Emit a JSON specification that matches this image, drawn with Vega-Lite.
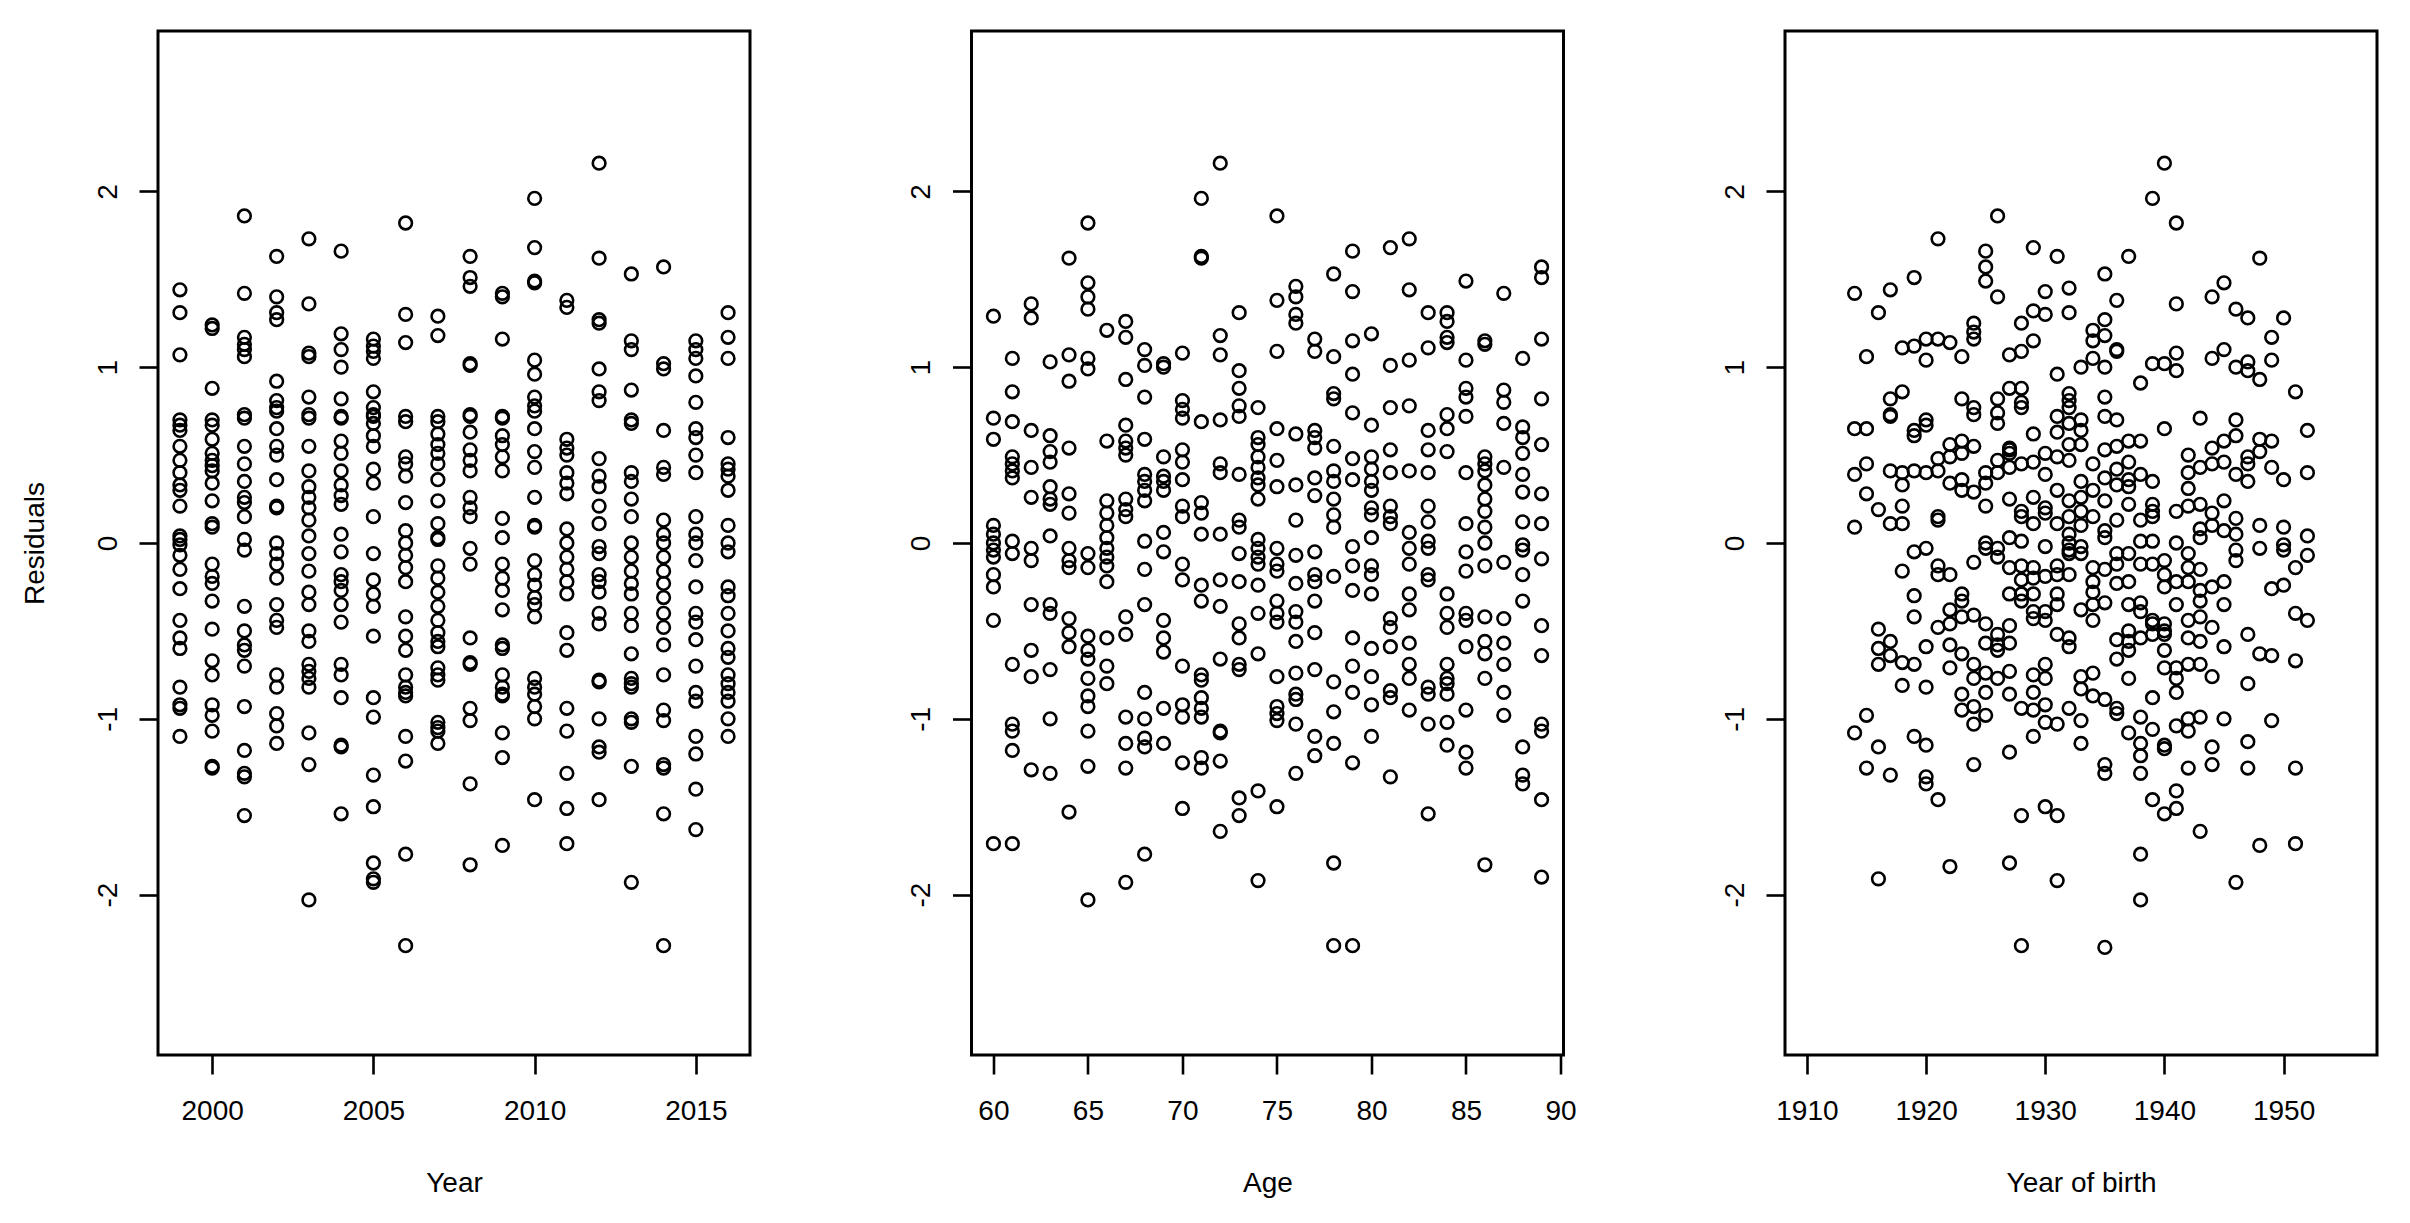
{
"$schema": "https://vega.github.io/schema/vega-lite/v6.json",
"background": "white",
"padding": {"left": 19, "top": 29, "right": 10, "bottom": 10},
"spacing": 221.5,
"bounds": "flush",
"datasets": {
"p1": [
{"x":1999,"y":1.44},{"x":1999,"y":1.31},{"x":1999,"y":1.07},{"x":1999,"y":0.70},{"x":1999,"y":0.67},{"x":1999,"y":0.64},{"x":1999,"y":0.55},{"x":1999,"y":0.47},{"x":1999,"y":0.40},{"x":1999,"y":0.33},{"x":1999,"y":0.30},{"x":1999,"y":0.21},{"x":1999,"y":0.04},{"x":1999,"y":0.02},{"x":1999,"y":-0.01},{"x":1999,"y":-0.07},{"x":1999,"y":-0.15},{"x":1999,"y":-0.26},{"x":1999,"y":-0.44},{"x":1999,"y":-0.54},{"x":1999,"y":-0.60},{"x":1999,"y":-0.82},{"x":1999,"y":-0.92},{"x":1999,"y":-0.94},{"x":1999,"y":-1.10},
{"x":2000,"y":1.24},{"x":2000,"y":1.22},{"x":2000,"y":0.88},{"x":2000,"y":0.70},{"x":2000,"y":0.67},{"x":2000,"y":0.59},{"x":2000,"y":0.51},{"x":2000,"y":0.47},{"x":2000,"y":0.44},{"x":2000,"y":0.41},{"x":2000,"y":0.34},{"x":2000,"y":0.24},{"x":2000,"y":0.11},{"x":2000,"y":0.09},{"x":2000,"y":-0.12},{"x":2000,"y":-0.19},{"x":2000,"y":-0.23},{"x":2000,"y":-0.33},{"x":2000,"y":-0.49},{"x":2000,"y":-0.67},{"x":2000,"y":-0.75},{"x":2000,"y":-0.92},{"x":2000,"y":-0.98},{"x":2000,"y":-1.07},{"x":2000,"y":-1.27},{"x":2000,"y":-1.28},
{"x":2001,"y":1.86},{"x":2001,"y":1.42},{"x":2001,"y":1.17},{"x":2001,"y":1.13},{"x":2001,"y":1.10},{"x":2001,"y":1.06},{"x":2001,"y":0.73},{"x":2001,"y":0.71},{"x":2001,"y":0.55},{"x":2001,"y":0.45},{"x":2001,"y":0.35},{"x":2001,"y":0.26},{"x":2001,"y":0.23},{"x":2001,"y":0.15},{"x":2001,"y":0.02},{"x":2001,"y":-0.04},{"x":2001,"y":-0.36},{"x":2001,"y":-0.50},{"x":2001,"y":-0.58},{"x":2001,"y":-0.61},{"x":2001,"y":-0.70},{"x":2001,"y":-0.93},{"x":2001,"y":-1.18},{"x":2001,"y":-1.31},{"x":2001,"y":-1.33},{"x":2001,"y":-1.55},
{"x":2002,"y":1.63},{"x":2002,"y":1.40},{"x":2002,"y":1.31},{"x":2002,"y":1.27},{"x":2002,"y":0.92},{"x":2002,"y":0.81},{"x":2002,"y":0.77},{"x":2002,"y":0.75},{"x":2002,"y":0.65},{"x":2002,"y":0.55},{"x":2002,"y":0.50},{"x":2002,"y":0.36},{"x":2002,"y":0.21},{"x":2002,"y":0.20},{"x":2002,"y":0.00},{"x":2002,"y":-0.06},{"x":2002,"y":-0.12},{"x":2002,"y":-0.20},{"x":2002,"y":-0.35},{"x":2002,"y":-0.44},{"x":2002,"y":-0.48},{"x":2002,"y":-0.75},{"x":2002,"y":-0.82},{"x":2002,"y":-0.97},{"x":2002,"y":-1.04},{"x":2002,"y":-1.14},
{"x":2003,"y":1.73},{"x":2003,"y":1.36},{"x":2003,"y":1.08},{"x":2003,"y":1.06},{"x":2003,"y":0.83},{"x":2003,"y":0.73},{"x":2003,"y":0.71},{"x":2003,"y":0.55},{"x":2003,"y":0.41},{"x":2003,"y":0.32},{"x":2003,"y":0.26},{"x":2003,"y":0.20},{"x":2003,"y":0.13},{"x":2003,"y":0.04},{"x":2003,"y":-0.06},{"x":2003,"y":-0.16},{"x":2003,"y":-0.28},{"x":2003,"y":-0.35},{"x":2003,"y":-0.50},{"x":2003,"y":-0.56},{"x":2003,"y":-0.69},{"x":2003,"y":-0.73},{"x":2003,"y":-0.77},{"x":2003,"y":-0.82},{"x":2003,"y":-1.08},{"x":2003,"y":-1.26},{"x":2003,"y":-2.03},
{"x":2004,"y":1.66},{"x":2004,"y":1.19},{"x":2004,"y":1.10},{"x":2004,"y":1.00},{"x":2004,"y":0.82},{"x":2004,"y":0.72},{"x":2004,"y":0.71},{"x":2004,"y":0.58},{"x":2004,"y":0.51},{"x":2004,"y":0.41},{"x":2004,"y":0.33},{"x":2004,"y":0.27},{"x":2004,"y":0.22},{"x":2004,"y":0.05},{"x":2004,"y":-0.05},{"x":2004,"y":-0.18},{"x":2004,"y":-0.22},{"x":2004,"y":-0.27},{"x":2004,"y":-0.35},{"x":2004,"y":-0.45},{"x":2004,"y":-0.69},{"x":2004,"y":-0.75},{"x":2004,"y":-0.88},{"x":2004,"y":-1.15},{"x":2004,"y":-1.16},{"x":2004,"y":-1.54},
{"x":2005,"y":1.16},{"x":2005,"y":1.12},{"x":2005,"y":1.09},{"x":2005,"y":1.05},{"x":2005,"y":0.86},{"x":2005,"y":0.77},{"x":2005,"y":0.73},{"x":2005,"y":0.72},{"x":2005,"y":0.68},{"x":2005,"y":0.61},{"x":2005,"y":0.55},{"x":2005,"y":0.42},{"x":2005,"y":0.34},{"x":2005,"y":0.15},{"x":2005,"y":-0.06},{"x":2005,"y":-0.21},{"x":2005,"y":-0.29},{"x":2005,"y":-0.36},{"x":2005,"y":-0.53},{"x":2005,"y":-0.88},{"x":2005,"y":-0.99},{"x":2005,"y":-1.32},{"x":2005,"y":-1.50},{"x":2005,"y":-1.82},{"x":2005,"y":-1.91},{"x":2005,"y":-1.93},
{"x":2006,"y":1.82},{"x":2006,"y":1.30},{"x":2006,"y":1.14},{"x":2006,"y":0.72},{"x":2006,"y":0.69},{"x":2006,"y":0.49},{"x":2006,"y":0.45},{"x":2006,"y":0.38},{"x":2006,"y":0.23},{"x":2006,"y":0.07},{"x":2006,"y":0.00},{"x":2006,"y":-0.07},{"x":2006,"y":-0.14},{"x":2006,"y":-0.22},{"x":2006,"y":-0.42},{"x":2006,"y":-0.53},{"x":2006,"y":-0.61},{"x":2006,"y":-0.75},{"x":2006,"y":-0.82},{"x":2006,"y":-0.85},{"x":2006,"y":-0.87},{"x":2006,"y":-1.10},{"x":2006,"y":-1.24},{"x":2006,"y":-1.77},{"x":2006,"y":-2.29},
{"x":2007,"y":1.29},{"x":2007,"y":1.18},{"x":2007,"y":0.72},{"x":2007,"y":0.69},{"x":2007,"y":0.62},{"x":2007,"y":0.56},{"x":2007,"y":0.51},{"x":2007,"y":0.45},{"x":2007,"y":0.36},{"x":2007,"y":0.24},{"x":2007,"y":0.11},{"x":2007,"y":0.03},{"x":2007,"y":0.02},{"x":2007,"y":-0.13},{"x":2007,"y":-0.20},{"x":2007,"y":-0.28},{"x":2007,"y":-0.36},{"x":2007,"y":-0.44},{"x":2007,"y":-0.51},{"x":2007,"y":-0.56},{"x":2007,"y":-0.59},{"x":2007,"y":-0.71},{"x":2007,"y":-0.75},{"x":2007,"y":-0.78},{"x":2007,"y":-1.02},{"x":2007,"y":-1.05},{"x":2007,"y":-1.07},{"x":2007,"y":-1.14},
{"x":2008,"y":1.63},{"x":2008,"y":1.51},{"x":2008,"y":1.46},{"x":2008,"y":1.02},{"x":2008,"y":1.01},{"x":2008,"y":0.73},{"x":2008,"y":0.72},{"x":2008,"y":0.63},{"x":2008,"y":0.53},{"x":2008,"y":0.47},{"x":2008,"y":0.41},{"x":2008,"y":0.26},{"x":2008,"y":0.20},{"x":2008,"y":0.15},{"x":2008,"y":-0.03},{"x":2008,"y":-0.12},{"x":2008,"y":-0.54},{"x":2008,"y":-0.68},{"x":2008,"y":-0.69},{"x":2008,"y":-0.94},{"x":2008,"y":-1.01},{"x":2008,"y":-1.37},{"x":2008,"y":-1.83},
{"x":2009,"y":1.42},{"x":2009,"y":1.40},{"x":2009,"y":1.16},{"x":2009,"y":0.72},{"x":2009,"y":0.71},{"x":2009,"y":0.61},{"x":2009,"y":0.56},{"x":2009,"y":0.49},{"x":2009,"y":0.41},{"x":2009,"y":0.14},{"x":2009,"y":0.03},{"x":2009,"y":-0.12},{"x":2009,"y":-0.20},{"x":2009,"y":-0.27},{"x":2009,"y":-0.38},{"x":2009,"y":-0.58},{"x":2009,"y":-0.60},{"x":2009,"y":-0.75},{"x":2009,"y":-0.82},{"x":2009,"y":-0.86},{"x":2009,"y":-0.87},{"x":2009,"y":-1.08},{"x":2009,"y":-1.22},{"x":2009,"y":-1.72},
{"x":2010,"y":1.96},{"x":2010,"y":1.68},{"x":2010,"y":1.49},{"x":2010,"y":1.48},{"x":2010,"y":1.04},{"x":2010,"y":0.96},{"x":2010,"y":0.83},{"x":2010,"y":0.78},{"x":2010,"y":0.75},{"x":2010,"y":0.65},{"x":2010,"y":0.52},{"x":2010,"y":0.43},{"x":2010,"y":0.26},{"x":2010,"y":0.10},{"x":2010,"y":0.09},{"x":2010,"y":-0.10},{"x":2010,"y":-0.18},{"x":2010,"y":-0.24},{"x":2010,"y":-0.31},{"x":2010,"y":-0.35},{"x":2010,"y":-0.42},{"x":2010,"y":-0.77},{"x":2010,"y":-0.82},{"x":2010,"y":-0.86},{"x":2010,"y":-0.93},{"x":2010,"y":-1.00},{"x":2010,"y":-1.46},
{"x":2011,"y":1.38},{"x":2011,"y":1.34},{"x":2011,"y":0.59},{"x":2011,"y":0.54},{"x":2011,"y":0.50},{"x":2011,"y":0.40},{"x":2011,"y":0.34},{"x":2011,"y":0.28},{"x":2011,"y":0.08},{"x":2011,"y":0.00},{"x":2011,"y":-0.08},{"x":2011,"y":-0.15},{"x":2011,"y":-0.22},{"x":2011,"y":-0.29},{"x":2011,"y":-0.51},{"x":2011,"y":-0.61},{"x":2011,"y":-0.94},{"x":2011,"y":-1.07},{"x":2011,"y":-1.31},{"x":2011,"y":-1.51},{"x":2011,"y":-1.71},
{"x":2012,"y":2.16},{"x":2012,"y":1.62},{"x":2012,"y":1.27},{"x":2012,"y":1.25},{"x":2012,"y":0.99},{"x":2012,"y":0.86},{"x":2012,"y":0.81},{"x":2012,"y":0.48},{"x":2012,"y":0.38},{"x":2012,"y":0.32},{"x":2012,"y":0.21},{"x":2012,"y":0.11},{"x":2012,"y":-0.02},{"x":2012,"y":-0.06},{"x":2012,"y":-0.18},{"x":2012,"y":-0.22},{"x":2012,"y":-0.28},{"x":2012,"y":-0.40},{"x":2012,"y":-0.46},{"x":2012,"y":-0.78},{"x":2012,"y":-0.79},{"x":2012,"y":-1.00},{"x":2012,"y":-1.16},{"x":2012,"y":-1.19},{"x":2012,"y":-1.46},
{"x":2013,"y":1.53},{"x":2013,"y":1.15},{"x":2013,"y":1.10},{"x":2013,"y":0.87},{"x":2013,"y":0.70},{"x":2013,"y":0.68},{"x":2013,"y":0.40},{"x":2013,"y":0.35},{"x":2013,"y":0.25},{"x":2013,"y":0.15},{"x":2013,"y":0.00},{"x":2013,"y":-0.08},{"x":2013,"y":-0.16},{"x":2013,"y":-0.23},{"x":2013,"y":-0.29},{"x":2013,"y":-0.40},{"x":2013,"y":-0.47},{"x":2013,"y":-0.63},{"x":2013,"y":-0.77},{"x":2013,"y":-0.80},{"x":2013,"y":-0.82},{"x":2013,"y":-1.00},{"x":2013,"y":-1.02},{"x":2013,"y":-1.27},{"x":2013,"y":-1.93},
{"x":2014,"y":1.57},{"x":2014,"y":1.02},{"x":2014,"y":0.99},{"x":2014,"y":0.64},{"x":2014,"y":0.43},{"x":2014,"y":0.39},{"x":2014,"y":0.13},{"x":2014,"y":0.05},{"x":2014,"y":0.00},{"x":2014,"y":-0.08},{"x":2014,"y":-0.16},{"x":2014,"y":-0.23},{"x":2014,"y":-0.31},{"x":2014,"y":-0.40},{"x":2014,"y":-0.48},{"x":2014,"y":-0.58},{"x":2014,"y":-0.75},{"x":2014,"y":-0.95},{"x":2014,"y":-1.01},{"x":2014,"y":-1.26},{"x":2014,"y":-1.28},{"x":2014,"y":-1.54},{"x":2014,"y":-2.29},
{"x":2015,"y":1.15},{"x":2015,"y":1.10},{"x":2015,"y":1.05},{"x":2015,"y":0.95},{"x":2015,"y":0.80},{"x":2015,"y":0.65},{"x":2015,"y":0.60},{"x":2015,"y":0.50},{"x":2015,"y":0.40},{"x":2015,"y":0.15},{"x":2015,"y":0.05},{"x":2015,"y":0.00},{"x":2015,"y":-0.10},{"x":2015,"y":-0.25},{"x":2015,"y":-0.40},{"x":2015,"y":-0.45},{"x":2015,"y":-0.55},{"x":2015,"y":-0.70},{"x":2015,"y":-0.85},{"x":2015,"y":-0.90},{"x":2015,"y":-1.10},{"x":2015,"y":-1.20},{"x":2015,"y":-1.40},{"x":2015,"y":-1.63},
{"x":2016,"y":1.31},{"x":2016,"y":1.17},{"x":2016,"y":1.05},{"x":2016,"y":0.60},{"x":2016,"y":0.45},{"x":2016,"y":0.42},{"x":2016,"y":0.38},{"x":2016,"y":0.30},{"x":2016,"y":0.10},{"x":2016,"y":0.00},{"x":2016,"y":-0.05},{"x":2016,"y":-0.25},{"x":2016,"y":-0.30},{"x":2016,"y":-0.40},{"x":2016,"y":-0.50},{"x":2016,"y":-0.60},{"x":2016,"y":-0.65},{"x":2016,"y":-0.75},{"x":2016,"y":-0.80},{"x":2016,"y":-0.85},{"x":2016,"y":-0.90},{"x":2016,"y":-1.00},{"x":2016,"y":-1.10}
],
"p2": [
{"x":60,"y":1.29},{"x":60,"y":0.71},{"x":60,"y":0.59},{"x":60,"y":0.10},{"x":60,"y":0.05},{"x":60,"y":0.00},{"x":60,"y":-0.04},{"x":60,"y":-0.08},{"x":60,"y":-0.18},{"x":60,"y":-0.25},{"x":60,"y":-0.44},{"x":60,"y":-1.71},
{"x":61,"y":1.05},{"x":61,"y":0.86},{"x":61,"y":0.69},{"x":61,"y":0.49},{"x":61,"y":0.45},{"x":61,"y":0.41},{"x":61,"y":0.37},{"x":61,"y":0.01},{"x":61,"y":-0.06},{"x":61,"y":-0.69},{"x":61,"y":-1.03},{"x":61,"y":-1.07},{"x":61,"y":-1.18},{"x":61,"y":-1.71},
{"x":62,"y":1.36},{"x":62,"y":1.28},{"x":62,"y":0.64},{"x":62,"y":0.43},{"x":62,"y":0.26},{"x":62,"y":-0.03},{"x":62,"y":-0.10},{"x":62,"y":-0.35},{"x":62,"y":-0.61},{"x":62,"y":-0.76},{"x":62,"y":-1.29},
{"x":63,"y":1.03},{"x":63,"y":0.61},{"x":63,"y":0.52},{"x":63,"y":0.46},{"x":63,"y":0.32},{"x":63,"y":0.25},{"x":63,"y":0.22},{"x":63,"y":0.04},{"x":63,"y":-0.35},{"x":63,"y":-0.40},{"x":63,"y":-0.72},{"x":63,"y":-1.00},{"x":63,"y":-1.31},
{"x":64,"y":1.62},{"x":64,"y":1.07},{"x":64,"y":0.92},{"x":64,"y":0.54},{"x":64,"y":0.28},{"x":64,"y":0.17},{"x":64,"y":-0.03},{"x":64,"y":-0.10},{"x":64,"y":-0.14},{"x":64,"y":-0.43},{"x":64,"y":-0.51},{"x":64,"y":-0.59},{"x":64,"y":-1.53},
{"x":65,"y":1.82},{"x":65,"y":1.48},{"x":65,"y":1.40},{"x":65,"y":1.33},{"x":65,"y":1.05},{"x":65,"y":0.99},{"x":65,"y":-0.06},{"x":65,"y":-0.14},{"x":65,"y":-0.53},{"x":65,"y":-0.61},{"x":65,"y":-0.66},{"x":65,"y":-0.77},{"x":65,"y":-0.87},{"x":65,"y":-0.93},{"x":65,"y":-1.07},{"x":65,"y":-1.27},{"x":65,"y":-2.03},
{"x":66,"y":1.21},{"x":66,"y":0.58},{"x":66,"y":0.24},{"x":66,"y":0.17},{"x":66,"y":0.10},{"x":66,"y":0.03},{"x":66,"y":-0.03},{"x":66,"y":-0.08},{"x":66,"y":-0.13},{"x":66,"y":-0.22},{"x":66,"y":-0.54},{"x":66,"y":-0.70},{"x":66,"y":-0.80},
{"x":67,"y":1.26},{"x":67,"y":1.17},{"x":67,"y":0.93},{"x":67,"y":0.67},{"x":67,"y":0.58},{"x":67,"y":0.54},{"x":67,"y":0.50},{"x":67,"y":0.25},{"x":67,"y":0.19},{"x":67,"y":0.15},{"x":67,"y":-0.42},{"x":67,"y":-0.52},{"x":67,"y":-0.99},{"x":67,"y":-1.14},{"x":67,"y":-1.28},{"x":67,"y":-1.93},
{"x":68,"y":1.10},{"x":68,"y":1.01},{"x":68,"y":0.83},{"x":68,"y":0.59},{"x":68,"y":0.39},{"x":68,"y":0.35},{"x":68,"y":0.30},{"x":68,"y":0.24},{"x":68,"y":0.01},{"x":68,"y":-0.15},{"x":68,"y":-0.35},{"x":68,"y":-0.85},{"x":68,"y":-1.00},{"x":68,"y":-1.11},{"x":68,"y":-1.16},{"x":68,"y":-1.77},
{"x":69,"y":1.02},{"x":69,"y":1.00},{"x":69,"y":0.49},{"x":69,"y":0.38},{"x":69,"y":0.35},{"x":69,"y":0.30},{"x":69,"y":0.06},{"x":69,"y":-0.05},{"x":69,"y":-0.44},{"x":69,"y":-0.54},{"x":69,"y":-0.62},{"x":69,"y":-0.94},{"x":69,"y":-1.14},
{"x":70,"y":1.08},{"x":70,"y":0.81},{"x":70,"y":0.76},{"x":70,"y":0.71},{"x":70,"y":0.53},{"x":70,"y":0.46},{"x":70,"y":0.36},{"x":70,"y":0.21},{"x":70,"y":0.15},{"x":70,"y":-0.12},{"x":70,"y":-0.21},{"x":70,"y":-0.70},{"x":70,"y":-0.92},{"x":70,"y":-0.99},{"x":70,"y":-1.25},{"x":70,"y":-1.51},
{"x":71,"y":1.96},{"x":71,"y":1.63},{"x":71,"y":1.62},{"x":71,"y":0.69},{"x":71,"y":0.23},{"x":71,"y":0.17},{"x":71,"y":0.05},{"x":71,"y":-0.24},{"x":71,"y":-0.33},{"x":71,"y":-0.75},{"x":71,"y":-0.78},{"x":71,"y":-0.88},{"x":71,"y":-0.94},{"x":71,"y":-0.99},{"x":71,"y":-1.22},{"x":71,"y":-1.28},
{"x":72,"y":2.16},{"x":72,"y":1.18},{"x":72,"y":1.07},{"x":72,"y":0.70},{"x":72,"y":0.45},{"x":72,"y":0.40},{"x":72,"y":0.05},{"x":72,"y":-0.21},{"x":72,"y":-0.36},{"x":72,"y":-0.66},{"x":72,"y":-1.07},{"x":72,"y":-1.08},{"x":72,"y":-1.24},{"x":72,"y":-1.64},
{"x":73,"y":1.31},{"x":73,"y":0.98},{"x":73,"y":0.88},{"x":73,"y":0.78},{"x":73,"y":0.72},{"x":73,"y":0.39},{"x":73,"y":0.13},{"x":73,"y":0.09},{"x":73,"y":-0.06},{"x":73,"y":-0.22},{"x":73,"y":-0.46},{"x":73,"y":-0.54},{"x":73,"y":-0.69},{"x":73,"y":-0.72},{"x":73,"y":-1.45},{"x":73,"y":-1.55},
{"x":74,"y":0.77},{"x":74,"y":0.60},{"x":74,"y":0.56},{"x":74,"y":0.49},{"x":74,"y":0.43},{"x":74,"y":0.37},{"x":74,"y":0.33},{"x":74,"y":0.25},{"x":74,"y":0.02},{"x":74,"y":-0.03},{"x":74,"y":-0.08},{"x":74,"y":-0.12},{"x":74,"y":-0.24},{"x":74,"y":-0.40},{"x":74,"y":-0.63},{"x":74,"y":-1.41},{"x":74,"y":-1.92},
{"x":75,"y":1.86},{"x":75,"y":1.38},{"x":75,"y":1.09},{"x":75,"y":0.65},{"x":75,"y":0.47},{"x":75,"y":0.32},{"x":75,"y":-0.03},{"x":75,"y":-0.12},{"x":75,"y":-0.16},{"x":75,"y":-0.33},{"x":75,"y":-0.40},{"x":75,"y":-0.45},{"x":75,"y":-0.76},{"x":75,"y":-0.93},{"x":75,"y":-0.97},{"x":75,"y":-1.01},{"x":75,"y":-1.50},
{"x":76,"y":1.46},{"x":76,"y":1.40},{"x":76,"y":1.30},{"x":76,"y":1.25},{"x":76,"y":0.62},{"x":76,"y":0.33},{"x":76,"y":0.13},{"x":76,"y":-0.07},{"x":76,"y":-0.23},{"x":76,"y":-0.39},{"x":76,"y":-0.45},{"x":76,"y":-0.56},{"x":76,"y":-0.74},{"x":76,"y":-0.86},{"x":76,"y":-0.89},{"x":76,"y":-1.03},{"x":76,"y":-1.31},
{"x":77,"y":1.16},{"x":77,"y":1.09},{"x":77,"y":0.64},{"x":77,"y":0.60},{"x":77,"y":0.54},{"x":77,"y":0.37},{"x":77,"y":0.27},{"x":77,"y":-0.05},{"x":77,"y":-0.18},{"x":77,"y":-0.22},{"x":77,"y":-0.33},{"x":77,"y":-0.51},{"x":77,"y":-0.72},{"x":77,"y":-1.10},{"x":77,"y":-1.21},
{"x":78,"y":1.53},{"x":78,"y":1.06},{"x":78,"y":0.85},{"x":78,"y":0.82},{"x":78,"y":0.55},{"x":78,"y":0.41},{"x":78,"y":0.35},{"x":78,"y":0.25},{"x":78,"y":0.16},{"x":78,"y":0.09},{"x":78,"y":-0.19},{"x":78,"y":-0.79},{"x":78,"y":-0.96},{"x":78,"y":-1.14},{"x":78,"y":-1.82},{"x":78,"y":-2.29},
{"x":79,"y":1.66},{"x":79,"y":1.43},{"x":79,"y":1.15},{"x":79,"y":0.96},{"x":79,"y":0.74},{"x":79,"y":0.48},{"x":79,"y":0.36},{"x":79,"y":-0.02},{"x":79,"y":-0.13},{"x":79,"y":-0.27},{"x":79,"y":-0.54},{"x":79,"y":-0.70},{"x":79,"y":-0.85},{"x":79,"y":-1.25},{"x":79,"y":-2.29},
{"x":80,"y":1.19},{"x":80,"y":0.67},{"x":80,"y":0.49},{"x":80,"y":0.42},{"x":80,"y":0.35},{"x":80,"y":0.30},{"x":80,"y":0.20},{"x":80,"y":0.16},{"x":80,"y":0.03},{"x":80,"y":-0.13},{"x":80,"y":-0.18},{"x":80,"y":-0.29},{"x":80,"y":-0.60},{"x":80,"y":-0.76},{"x":80,"y":-0.92},{"x":80,"y":-1.10},
{"x":81,"y":1.68},{"x":81,"y":1.01},{"x":81,"y":0.77},{"x":81,"y":0.53},{"x":81,"y":0.40},{"x":81,"y":0.21},{"x":81,"y":0.15},{"x":81,"y":0.11},{"x":81,"y":-0.43},{"x":81,"y":-0.48},{"x":81,"y":-0.59},{"x":81,"y":-0.84},{"x":81,"y":-0.88},{"x":81,"y":-1.33},
{"x":82,"y":1.73},{"x":82,"y":1.44},{"x":82,"y":1.04},{"x":82,"y":0.78},{"x":82,"y":0.41},{"x":82,"y":0.06},{"x":82,"y":-0.03},{"x":82,"y":-0.12},{"x":82,"y":-0.29},{"x":82,"y":-0.38},{"x":82,"y":-0.57},{"x":82,"y":-0.69},{"x":82,"y":-0.77},{"x":82,"y":-0.95},
{"x":83,"y":1.31},{"x":83,"y":1.11},{"x":83,"y":0.64},{"x":83,"y":0.53},{"x":83,"y":0.40},{"x":83,"y":0.21},{"x":83,"y":0.12},{"x":83,"y":0.01},{"x":83,"y":-0.03},{"x":83,"y":-0.18},{"x":83,"y":-0.21},{"x":83,"y":-0.82},{"x":83,"y":-0.86},{"x":83,"y":-1.03},{"x":83,"y":-1.54},
{"x":84,"y":1.31},{"x":84,"y":1.26},{"x":84,"y":1.17},{"x":84,"y":1.14},{"x":84,"y":0.73},{"x":84,"y":0.65},{"x":84,"y":0.52},{"x":84,"y":-0.29},{"x":84,"y":-0.40},{"x":84,"y":-0.48},{"x":84,"y":-0.69},{"x":84,"y":-0.77},{"x":84,"y":-0.80},{"x":84,"y":-0.86},{"x":84,"y":-1.02},{"x":84,"y":-1.15},
{"x":85,"y":1.49},{"x":85,"y":1.04},{"x":85,"y":0.88},{"x":85,"y":0.83},{"x":85,"y":0.72},{"x":85,"y":0.40},{"x":85,"y":0.11},{"x":85,"y":-0.05},{"x":85,"y":-0.16},{"x":85,"y":-0.40},{"x":85,"y":-0.44},{"x":85,"y":-0.59},{"x":85,"y":-0.95},{"x":85,"y":-1.19},{"x":85,"y":-1.28},
{"x":86,"y":1.15},{"x":86,"y":1.13},{"x":86,"y":0.49},{"x":86,"y":0.45},{"x":86,"y":0.41},{"x":86,"y":0.33},{"x":86,"y":0.25},{"x":86,"y":0.18},{"x":86,"y":0.09},{"x":86,"y":0.00},{"x":86,"y":-0.13},{"x":86,"y":-0.42},{"x":86,"y":-0.56},{"x":86,"y":-0.63},{"x":86,"y":-0.77},{"x":86,"y":-1.83},
{"x":87,"y":1.42},{"x":87,"y":0.87},{"x":87,"y":0.80},{"x":87,"y":0.68},{"x":87,"y":0.43},{"x":87,"y":-0.11},{"x":87,"y":-0.43},{"x":87,"y":-0.57},{"x":87,"y":-0.69},{"x":87,"y":-0.85},{"x":87,"y":-0.98},
{"x":88,"y":1.05},{"x":88,"y":0.66},{"x":88,"y":0.60},{"x":88,"y":0.51},{"x":88,"y":0.39},{"x":88,"y":0.29},{"x":88,"y":0.12},{"x":88,"y":-0.01},{"x":88,"y":-0.04},{"x":88,"y":-0.18},{"x":88,"y":-0.33},{"x":88,"y":-1.16},{"x":88,"y":-1.32},{"x":88,"y":-1.37},
{"x":89,"y":1.57},{"x":89,"y":1.51},{"x":89,"y":1.16},{"x":89,"y":0.82},{"x":89,"y":0.56},{"x":89,"y":0.28},{"x":89,"y":0.11},{"x":89,"y":-0.09},{"x":89,"y":-0.47},{"x":89,"y":-0.64},{"x":89,"y":-1.03},{"x":89,"y":-1.07},{"x":89,"y":-1.46},{"x":89,"y":-1.90}
],
"p3": [
{"x":1914,"y":1.42},{"x":1914,"y":0.65},{"x":1914,"y":0.39},{"x":1914,"y":0.09},{"x":1914,"y":-1.08},
{"x":1915,"y":1.06},{"x":1915,"y":0.65},{"x":1915,"y":0.45},{"x":1915,"y":0.28},{"x":1915,"y":-0.98},{"x":1915,"y":-1.28},
{"x":1916,"y":1.31},{"x":1916,"y":0.19},{"x":1916,"y":-0.49},{"x":1916,"y":-0.60},{"x":1916,"y":-0.69},{"x":1916,"y":-1.16},{"x":1916,"y":-1.91},
{"x":1917,"y":1.44},{"x":1917,"y":0.82},{"x":1917,"y":0.73},{"x":1917,"y":0.72},{"x":1917,"y":0.41},{"x":1917,"y":0.11},{"x":1917,"y":-0.56},{"x":1917,"y":-0.64},{"x":1917,"y":-1.32},
{"x":1918,"y":1.11},{"x":1918,"y":0.86},{"x":1918,"y":0.40},{"x":1918,"y":0.33},{"x":1918,"y":0.21},{"x":1918,"y":0.11},{"x":1918,"y":-0.16},{"x":1918,"y":-0.68},{"x":1918,"y":-0.81},
{"x":1919,"y":1.51},{"x":1919,"y":1.12},{"x":1919,"y":0.64},{"x":1919,"y":0.61},{"x":1919,"y":0.41},{"x":1919,"y":-0.05},{"x":1919,"y":-0.30},{"x":1919,"y":-0.42},{"x":1919,"y":-0.69},{"x":1919,"y":-1.10},
{"x":1920,"y":1.16},{"x":1920,"y":1.04},{"x":1920,"y":0.70},{"x":1920,"y":0.67},{"x":1920,"y":0.40},{"x":1920,"y":-0.03},{"x":1920,"y":-0.59},{"x":1920,"y":-0.82},{"x":1920,"y":-1.15},{"x":1920,"y":-1.33},{"x":1920,"y":-1.37},
{"x":1921,"y":1.73},{"x":1921,"y":1.16},{"x":1921,"y":0.48},{"x":1921,"y":0.41},{"x":1921,"y":0.15},{"x":1921,"y":0.13},{"x":1921,"y":-0.13},{"x":1921,"y":-0.18},{"x":1921,"y":-0.48},{"x":1921,"y":-1.46},
{"x":1922,"y":1.14},{"x":1922,"y":0.56},{"x":1922,"y":0.49},{"x":1922,"y":0.34},{"x":1922,"y":-0.18},{"x":1922,"y":-0.38},{"x":1922,"y":-0.46},{"x":1922,"y":-0.58},{"x":1922,"y":-0.71},{"x":1922,"y":-1.84},
{"x":1923,"y":1.06},{"x":1923,"y":0.82},{"x":1923,"y":0.58},{"x":1923,"y":0.51},{"x":1923,"y":0.36},{"x":1923,"y":0.30},{"x":1923,"y":-0.29},{"x":1923,"y":-0.33},{"x":1923,"y":-0.42},{"x":1923,"y":-0.63},{"x":1923,"y":-0.86},{"x":1923,"y":-0.95},
{"x":1924,"y":1.25},{"x":1924,"y":1.20},{"x":1924,"y":1.16},{"x":1924,"y":0.77},{"x":1924,"y":0.73},{"x":1924,"y":0.55},{"x":1924,"y":0.29},{"x":1924,"y":-0.11},{"x":1924,"y":-0.41},{"x":1924,"y":-0.69},{"x":1924,"y":-0.77},{"x":1924,"y":-0.93},{"x":1924,"y":-1.03},{"x":1924,"y":-1.26},
{"x":1925,"y":1.66},{"x":1925,"y":1.57},{"x":1925,"y":1.49},{"x":1925,"y":0.40},{"x":1925,"y":0.34},{"x":1925,"y":0.21},{"x":1925,"y":0.00},{"x":1925,"y":-0.03},{"x":1925,"y":-0.46},{"x":1925,"y":-0.57},{"x":1925,"y":-0.74},{"x":1925,"y":-0.85},{"x":1925,"y":-0.98},
{"x":1926,"y":1.86},{"x":1926,"y":1.40},{"x":1926,"y":0.82},{"x":1926,"y":0.74},{"x":1926,"y":0.68},{"x":1926,"y":0.47},{"x":1926,"y":0.40},{"x":1926,"y":-0.03},{"x":1926,"y":-0.08},{"x":1926,"y":-0.52},{"x":1926,"y":-0.58},{"x":1926,"y":-0.61},{"x":1926,"y":-0.77},
{"x":1927,"y":1.07},{"x":1927,"y":0.88},{"x":1927,"y":0.54},{"x":1927,"y":0.53},{"x":1927,"y":0.51},{"x":1927,"y":0.43},{"x":1927,"y":0.25},{"x":1927,"y":0.03},{"x":1927,"y":-0.14},{"x":1927,"y":-0.29},{"x":1927,"y":-0.47},{"x":1927,"y":-0.57},{"x":1927,"y":-0.73},{"x":1927,"y":-0.86},{"x":1927,"y":-1.19},{"x":1927,"y":-1.82},
{"x":1928,"y":1.25},{"x":1928,"y":1.09},{"x":1928,"y":0.88},{"x":1928,"y":0.80},{"x":1928,"y":0.77},{"x":1928,"y":0.45},{"x":1928,"y":0.18},{"x":1928,"y":0.15},{"x":1928,"y":0.01},{"x":1928,"y":-0.13},{"x":1928,"y":-0.21},{"x":1928,"y":-0.29},{"x":1928,"y":-0.33},{"x":1928,"y":-0.94},{"x":1928,"y":-1.55},{"x":1928,"y":-2.29},
{"x":1929,"y":1.68},{"x":1929,"y":1.32},{"x":1929,"y":1.15},{"x":1929,"y":0.62},{"x":1929,"y":0.46},{"x":1929,"y":0.26},{"x":1929,"y":0.11},{"x":1929,"y":-0.14},{"x":1929,"y":-0.20},{"x":1929,"y":-0.29},{"x":1929,"y":-0.39},{"x":1929,"y":-0.43},{"x":1929,"y":-0.75},{"x":1929,"y":-0.85},{"x":1929,"y":-0.95},{"x":1929,"y":-1.10},
{"x":1930,"y":1.43},{"x":1930,"y":1.30},{"x":1930,"y":0.51},{"x":1930,"y":0.39},{"x":1930,"y":0.20},{"x":1930,"y":0.17},{"x":1930,"y":-0.02},{"x":1930,"y":-0.19},{"x":1930,"y":-0.39},{"x":1930,"y":-0.44},{"x":1930,"y":-0.69},{"x":1930,"y":-0.77},{"x":1930,"y":-0.92},{"x":1930,"y":-1.02},{"x":1930,"y":-1.50},
{"x":1931,"y":1.63},{"x":1931,"y":0.96},{"x":1931,"y":0.72},{"x":1931,"y":0.63},{"x":1931,"y":0.49},{"x":1931,"y":0.30},{"x":1931,"y":0.11},{"x":1931,"y":-0.13},{"x":1931,"y":-0.18},{"x":1931,"y":-0.29},{"x":1931,"y":-0.35},{"x":1931,"y":-0.52},{"x":1931,"y":-1.03},{"x":1931,"y":-1.55},{"x":1931,"y":-1.92},
{"x":1932,"y":1.45},{"x":1932,"y":1.31},{"x":1932,"y":0.85},{"x":1932,"y":0.81},{"x":1932,"y":0.77},{"x":1932,"y":0.68},{"x":1932,"y":0.56},{"x":1932,"y":0.47},{"x":1932,"y":0.24},{"x":1932,"y":0.15},{"x":1932,"y":0.05},{"x":1932,"y":0.00},{"x":1932,"y":-0.04},{"x":1932,"y":-0.06},{"x":1932,"y":-0.18},{"x":1932,"y":-0.54},{"x":1932,"y":-0.59},{"x":1932,"y":-0.94},
{"x":1933,"y":1.00},{"x":1933,"y":0.70},{"x":1933,"y":0.64},{"x":1933,"y":0.56},{"x":1933,"y":0.35},{"x":1933,"y":0.26},{"x":1933,"y":0.18},{"x":1933,"y":0.10},{"x":1933,"y":-0.02},{"x":1933,"y":-0.06},{"x":1933,"y":-0.38},{"x":1933,"y":-0.76},{"x":1933,"y":-0.83},{"x":1933,"y":-1.01},{"x":1933,"y":-1.14},
{"x":1934,"y":1.21},{"x":1934,"y":1.15},{"x":1934,"y":1.05},{"x":1934,"y":0.45},{"x":1934,"y":0.30},{"x":1934,"y":0.15},{"x":1934,"y":-0.14},{"x":1934,"y":-0.22},{"x":1934,"y":-0.28},{"x":1934,"y":-0.35},{"x":1934,"y":-0.44},{"x":1934,"y":-0.74},{"x":1934,"y":-0.87},
{"x":1935,"y":1.53},{"x":1935,"y":1.27},{"x":1935,"y":1.18},{"x":1935,"y":1.00},{"x":1935,"y":0.83},{"x":1935,"y":0.72},{"x":1935,"y":0.53},{"x":1935,"y":0.37},{"x":1935,"y":0.24},{"x":1935,"y":0.07},{"x":1935,"y":0.03},{"x":1935,"y":-0.15},{"x":1935,"y":-0.34},{"x":1935,"y":-0.89},{"x":1935,"y":-1.26},{"x":1935,"y":-1.31},{"x":1935,"y":-2.30},
{"x":1936,"y":1.38},{"x":1936,"y":1.10},{"x":1936,"y":1.09},{"x":1936,"y":0.70},{"x":1936,"y":0.55},{"x":1936,"y":0.42},{"x":1936,"y":0.33},{"x":1936,"y":0.13},{"x":1936,"y":-0.06},{"x":1936,"y":-0.12},{"x":1936,"y":-0.23},{"x":1936,"y":-0.55},{"x":1936,"y":-0.66},{"x":1936,"y":-0.94},{"x":1936,"y":-0.97},
{"x":1937,"y":1.63},{"x":1937,"y":0.58},{"x":1937,"y":0.46},{"x":1937,"y":0.36},{"x":1937,"y":0.32},{"x":1937,"y":0.22},{"x":1937,"y":-0.06},{"x":1937,"y":-0.22},{"x":1937,"y":-0.35},{"x":1937,"y":-0.50},{"x":1937,"y":-0.56},{"x":1937,"y":-0.61},{"x":1937,"y":-0.77},{"x":1937,"y":-1.08},
{"x":1938,"y":0.91},{"x":1938,"y":0.58},{"x":1938,"y":0.39},{"x":1938,"y":0.13},{"x":1938,"y":0.01},{"x":1938,"y":-0.12},{"x":1938,"y":-0.34},{"x":1938,"y":-0.39},{"x":1938,"y":-0.54},{"x":1938,"y":-0.99},{"x":1938,"y":-1.14},{"x":1938,"y":-1.21},{"x":1938,"y":-1.31},{"x":1938,"y":-1.77},{"x":1938,"y":-2.03},
{"x":1939,"y":1.96},{"x":1939,"y":1.02},{"x":1939,"y":0.35},{"x":1939,"y":0.22},{"x":1939,"y":0.18},{"x":1939,"y":0.15},{"x":1939,"y":0.01},{"x":1939,"y":-0.12},{"x":1939,"y":-0.44},{"x":1939,"y":-0.46},{"x":1939,"y":-0.52},{"x":1939,"y":-0.88},{"x":1939,"y":-1.06},{"x":1939,"y":-1.46},
{"x":1940,"y":2.16},{"x":1940,"y":1.02},{"x":1940,"y":0.65},{"x":1940,"y":-0.10},{"x":1940,"y":-0.18},{"x":1940,"y":-0.25},{"x":1940,"y":-0.46},{"x":1940,"y":-0.50},{"x":1940,"y":-0.52},{"x":1940,"y":-0.61},{"x":1940,"y":-0.71},{"x":1940,"y":-1.15},{"x":1940,"y":-1.17},{"x":1940,"y":-1.54},
{"x":1941,"y":1.82},{"x":1941,"y":1.36},{"x":1941,"y":1.08},{"x":1941,"y":0.98},{"x":1941,"y":0.18},{"x":1941,"y":0.00},{"x":1941,"y":-0.22},{"x":1941,"y":-0.35},{"x":1941,"y":-0.71},{"x":1941,"y":-0.77},{"x":1941,"y":-0.85},{"x":1941,"y":-1.04},{"x":1941,"y":-1.41},{"x":1941,"y":-1.51},
{"x":1942,"y":0.50},{"x":1942,"y":0.40},{"x":1942,"y":0.31},{"x":1942,"y":0.21},{"x":1942,"y":-0.06},{"x":1942,"y":-0.14},{"x":1942,"y":-0.22},{"x":1942,"y":-0.44},{"x":1942,"y":-0.54},{"x":1942,"y":-0.69},{"x":1942,"y":-1.00},{"x":1942,"y":-1.07},{"x":1942,"y":-1.28},
{"x":1943,"y":0.71},{"x":1943,"y":0.43},{"x":1943,"y":0.22},{"x":1943,"y":0.08},{"x":1943,"y":0.03},{"x":1943,"y":-0.15},{"x":1943,"y":-0.27},{"x":1943,"y":-0.33},{"x":1943,"y":-0.42},{"x":1943,"y":-0.56},{"x":1943,"y":-0.69},{"x":1943,"y":-0.99},{"x":1943,"y":-1.64},
{"x":1944,"y":1.40},{"x":1944,"y":1.05},{"x":1944,"y":0.54},{"x":1944,"y":0.45},{"x":1944,"y":0.17},{"x":1944,"y":0.10},{"x":1944,"y":-0.25},{"x":1944,"y":-0.48},{"x":1944,"y":-0.76},{"x":1944,"y":-1.16},{"x":1944,"y":-1.26},
{"x":1945,"y":1.48},{"x":1945,"y":1.10},{"x":1945,"y":0.58},{"x":1945,"y":0.46},{"x":1945,"y":0.24},{"x":1945,"y":0.07},{"x":1945,"y":-0.22},{"x":1945,"y":-0.35},{"x":1945,"y":-0.59},{"x":1945,"y":-1.00},
{"x":1946,"y":1.33},{"x":1946,"y":1.00},{"x":1946,"y":0.70},{"x":1946,"y":0.61},{"x":1946,"y":0.39},{"x":1946,"y":0.14},{"x":1946,"y":0.05},{"x":1946,"y":-0.04},{"x":1946,"y":-0.10},{"x":1946,"y":-1.93},
{"x":1947,"y":1.28},{"x":1947,"y":1.03},{"x":1947,"y":0.98},{"x":1947,"y":0.49},{"x":1947,"y":0.45},{"x":1947,"y":0.35},{"x":1947,"y":-0.52},{"x":1947,"y":-0.80},{"x":1947,"y":-1.13},{"x":1947,"y":-1.28},
{"x":1948,"y":1.62},{"x":1948,"y":0.93},{"x":1948,"y":0.59},{"x":1948,"y":0.52},{"x":1948,"y":0.10},{"x":1948,"y":-0.03},{"x":1948,"y":-0.63},{"x":1948,"y":-1.72},
{"x":1949,"y":1.17},{"x":1949,"y":1.04},{"x":1949,"y":0.58},{"x":1949,"y":0.43},{"x":1949,"y":-0.26},{"x":1949,"y":-0.64},{"x":1949,"y":-1.01},
{"x":1950,"y":1.28},{"x":1950,"y":0.36},{"x":1950,"y":0.09},{"x":1950,"y":-0.01},{"x":1950,"y":-0.04},{"x":1950,"y":-0.24},
{"x":1951,"y":0.86},{"x":1951,"y":-0.14},{"x":1951,"y":-0.40},{"x":1951,"y":-0.67},{"x":1951,"y":-1.28},{"x":1951,"y":-1.71},
{"x":1952,"y":0.64},{"x":1952,"y":0.40},{"x":1952,"y":0.04},{"x":1952,"y":-0.07},{"x":1952,"y":-0.44}
]
},
"hconcat": [
{
"width": 592, "height": 1024,
"data": {"name": "p1"},
"mark": {"type": "point", "shape": "circle", "filled": false, "stroke": "black", "strokeWidth": 2.6, "size": 160, "opacity": 1},
"encoding": {
"x": {"field": "x", "type": "quantitative", "scale": {"domain": [1998.32, 2016.68], "nice": false, "zero": false}, "axis": {"values": [2000, 2005, 2010, 2015], "labelExpr": "'' + datum.value", "title": "Year"}},
"y": {"field": "y", "type": "quantitative", "scale": {"domain": [-2.912, 2.912], "nice": false, "zero": false}, "axis": {"values": [-2, -1, 0, 1, 2], "labelExpr": "'' + datum.value", "title": "Residuals"}}
}
},
{
"width": 592, "height": 1024,
"data": {"name": "p2"},
"mark": {"type": "point", "shape": "circle", "filled": false, "stroke": "black", "strokeWidth": 2.6, "size": 160, "opacity": 1},
"encoding": {
"x": {"field": "x", "type": "quantitative", "scale": {"domain": [58.84, 90.16], "nice": false, "zero": false}, "axis": {"values": [60, 65, 70, 75, 80, 85, 90], "labelExpr": "'' + datum.value", "title": "Age"}},
"y": {"field": "y", "type": "quantitative", "scale": {"domain": [-2.912, 2.912], "nice": false, "zero": false}, "axis": {"values": [-2, -1, 0, 1, 2], "labelExpr": "'' + datum.value", "title": null}}
}
},
{
"width": 592, "height": 1024,
"data": {"name": "p3"},
"mark": {"type": "point", "shape": "circle", "filled": false, "stroke": "black", "strokeWidth": 2.6, "size": 160, "opacity": 1},
"encoding": {
"x": {"field": "x", "type": "quantitative", "scale": {"domain": [1908.16, 1957.84], "nice": false, "zero": false}, "axis": {"values": [1910, 1920, 1930, 1940, 1950], "labelExpr": "'' + datum.value", "title": "Year of birth"}},
"y": {"field": "y", "type": "quantitative", "scale": {"domain": [-2.912, 2.912], "nice": false, "zero": false}, "axis": {"values": [-2, -1, 0, 1, 2], "labelExpr": "'' + datum.value", "title": null}}
}
}
],
"config": {
"view": {"stroke": "black", "strokeWidth": 3, "fill": "white"},
"axis": {"domain": false, "grid": false, "ticks": true, "tickColor": "black", "tickWidth": 2.6, "tickSize": 19, "labelFont": "Liberation Sans", "labelFontSize": 28, "labelColor": "black", "titleFont": "Liberation Sans", "titleFontSize": 28, "titleFontWeight": "normal", "titleColor": "black", "labelFlush": false, "labelOverlap": false},
"axisX": {"labelBaseline": "alphabetic", "labelPadding": 45, "titleBaseline": "alphabetic", "titleY": 136},
"axisY": {"labelAngle": -90, "labelAlign": "center", "labelBaseline": "alphabetic", "labelPadding": 22.6, "titleAngle": -90, "titleBaseline": "alphabetic", "titleX": -115}
}
}
